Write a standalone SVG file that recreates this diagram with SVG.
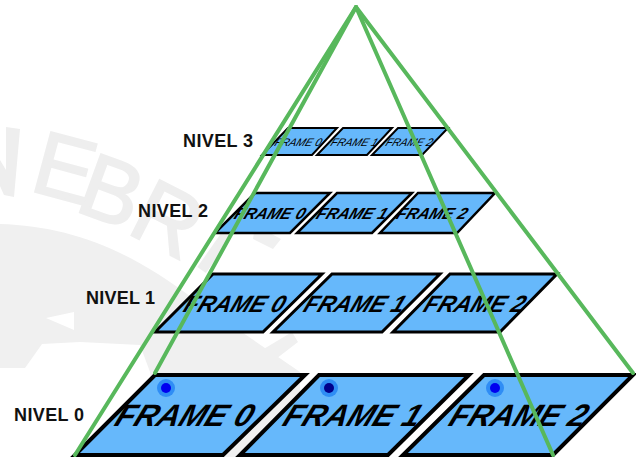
<svg xmlns="http://www.w3.org/2000/svg" width="636" height="457" viewBox="0 0 636 457">
<style>
.wm{fill:#eeeeee;stroke:#eeeeee;stroke-width:2;font:90px "Liberation Sans",Arial,sans-serif}
.f{fill:#66b8fb;stroke:#000;stroke-linejoin:miter}
.t{font-family:"Liberation Sans",Arial,sans-serif;font-weight:bold;font-style:italic;text-anchor:middle;fill:#000}
.n{font-weight:normal}
.l{font:bold 18px "Liberation Sans",Arial,sans-serif;fill:#111}
.g{stroke:#58b85c;stroke-width:4;fill:none;stroke-linecap:round}
.halo{fill:#2f8df5}
</style>
<rect width="636" height="457" fill="#fff"/>
<g id="watermark">
<path d="M0,224C70,226 130,250 195,300L300,372L300,457L75,457L82,368L0,368Z" fill="#f0f0f0"/>
<path d="M25,368L42,344L80,342L140,345L150,372L155,440L80,457L0,457L0,368Z" fill="#fff"/>
<path d="M46,318L74,312L74,330Z" fill="#fff"/>
<path d="M255,225l26,14l-8,10l-20,-10ZM262,350l30,-18l6,10l-26,20Z" fill="#f0f0f0"/>
<path d="M6,127L20,129L14,197L4,195L0,186L0,160L6,170Z" fill="#eeeeee"/>
<text class="wm" transform="translate(28,190) rotate(15)">E</text>
<text class="wm" transform="translate(73,210) rotate(20)">B</text>
<text class="wm" transform="translate(125,232) rotate(27)">R</text>
<text class="wm" transform="translate(192,262) rotate(35)">I</text>
</g>
<g id="nivel-3">
<text class="l" x="183" y="147" textLength="70">NIVEL 3</text>
<g id="n3-frame-0"><path class="f" stroke-width="2" d="M288,128H337L312,155H262Z"/><text class="t n" font-size="11" transform="translate(297,146) skewX(-22) scale(.98,1)">FRAME 0</text></g>
<g id="n3-frame-1"><path class="f" stroke-width="2" d="M343,128H392L367,155H317Z"/><text class="t n" font-size="11" transform="translate(353,146) skewX(-22) scale(.98,1)">FRAME 1</text></g>
<g id="n3-frame-2"><path class="f" stroke-width="2" d="M398,128H448L422,155H372Z"/><text class="t n" font-size="11" transform="translate(408,146) skewX(-22) scale(.98,1)">FRAME 2</text></g>
</g>
<g id="nivel-2">
<text class="l" x="138" y="217" textLength="70">NIVEL 2</text>
<g id="n2-frame-0"><path class="f" stroke-width="2.5" d="M255,193H330L290,233H215Z"/><text class="t" font-size="16" transform="translate(268,219) skewX(-22)">FRAME 0</text></g>
<g id="n2-frame-1"><path class="f" stroke-width="2.5" d="M337,193H412L372,233H297Z"/><text class="t" font-size="16" transform="translate(350,219) skewX(-22)">FRAME 1</text></g>
<g id="n2-frame-2"><path class="f" stroke-width="2.5" d="M418,193H495L457,233H380Z"/><text class="t" font-size="16" transform="translate(430,219) skewX(-22)">FRAME 2</text></g>
</g>
<g id="nivel-1">
<text class="l" x="86" y="304" textLength="69">NIVEL 1</text>
<g id="n1-frame-0"><path class="f" stroke-width="3" d="M213,274H322L263,332H155Z"/><text class="t" font-size="23.5" transform="translate(232,312) skewX(-22) scale(.97,1)">FRAME 0</text></g>
<g id="n1-frame-1"><path class="f" stroke-width="3" d="M332,274H440L382,332H273Z"/><text class="t" font-size="23.5" transform="translate(352,312) skewX(-22) scale(.97,1)">FRAME 1</text></g>
<g id="n1-frame-2"><path class="f" stroke-width="3" d="M450,274H557L500,332H393Z"/><text class="t" font-size="23.5" transform="translate(472,312) skewX(-22) scale(.97,1)">FRAME 2</text></g>
</g>
<g id="nivel-0">
<text class="l" x="14" y="421" textLength="70">NIVEL 0</text>
<g id="n0-frame-0"><path class="f" stroke-width="4" d="M155,375H305L223,455H75Z"/><circle class="halo" cx="166" cy="388" r="9"/><circle cx="166" cy="388" r="5" fill="#0000f0"/><text class="t" font-size="31" transform="translate(181,426) skewX(-22)">FRAME 0</text></g>
<g id="n0-frame-1"><path class="f" stroke-width="4" d="M319,375H469L388,455H240Z"/><circle class="halo" cx="329" cy="388" r="9"/><circle cx="329" cy="388" r="5" fill="#00008b"/><text class="t" font-size="31" transform="translate(349,426) skewX(-22)">FRAME 1</text></g>
<g id="n0-frame-2"><path class="f" stroke-width="4" d="M484,375H633L553,455H403Z"/><circle class="halo" cx="495" cy="388" r="9"/><circle cx="495" cy="388" r="5" fill="#0000f0"/><text class="t" font-size="31" transform="translate(515,426) skewX(-22)">FRAME 2</text></g>
</g>
<g id="connectors" class="g">
<path d="M356,7L75,455"/>
<path d="M356,7L155,373"/>
<path d="M356,7L553,455"/>
<path d="M356,7L633,373"/>
</g>
</svg>
